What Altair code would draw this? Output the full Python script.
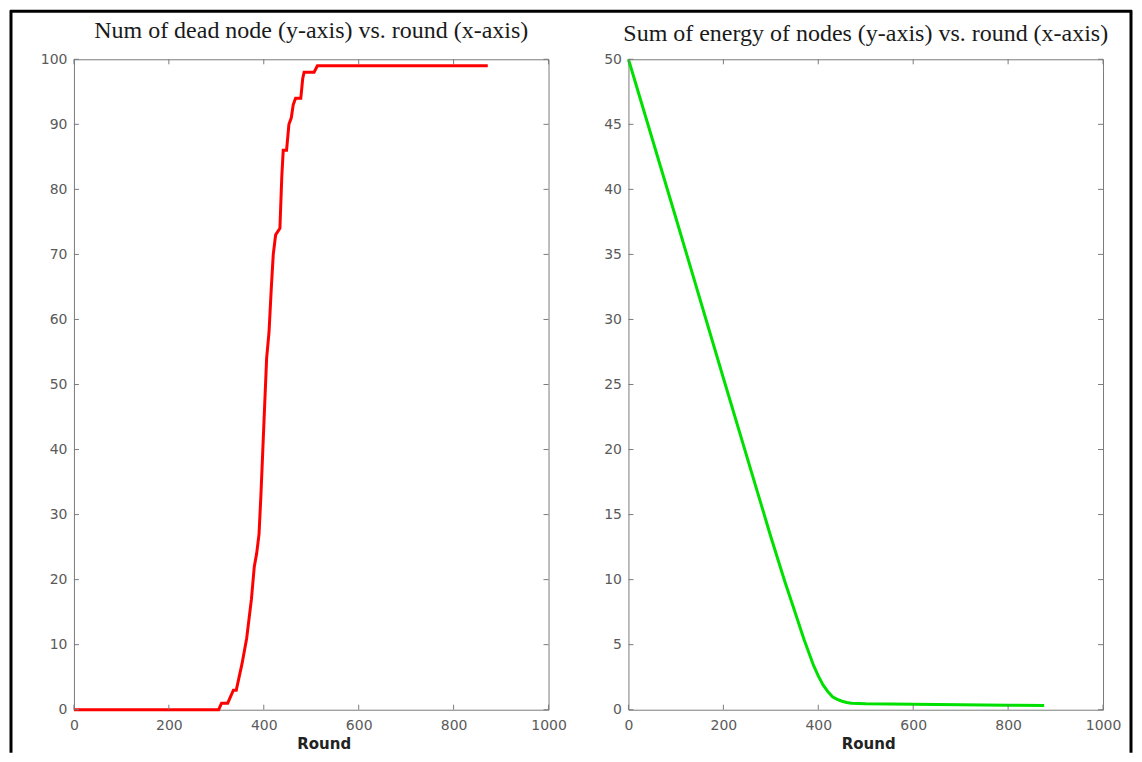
import altair as alt
import pandas as pd

# ---------------- data ----------------
dead_round = [0, 305, 311, 318, 324, 330, 336, 342, 348, 354, 359, 364, 369, 374, 380, 385,
              390, 394, 398, 402, 406, 411, 416, 420, 425, 434, 438, 441, 448, 453, 458, 462,
              467, 478, 482, 485, 506, 513, 872]
dead_nodes = [0, 0, 1, 1, 1, 2, 3, 3, 5, 7, 9, 11, 14, 17, 22, 24,
              27, 33, 40, 47, 54, 58, 65, 70, 73, 74, 82, 86, 86, 90, 91, 93,
              94, 94, 97, 98, 98, 99, 99]

energy_round = [0, 100, 200, 300, 330, 350, 370, 390, 400, 410, 420, 430, 440, 450,
                460, 470, 500, 600, 700, 800, 876]
energy_sum = [50, 37.8, 25.5, 13.3, 9.8, 7.6, 5.4, 3.4, 2.6, 1.9, 1.4, 1.0, 0.8, 0.65,
              0.55, 0.5, 0.45, 0.42, 0.38, 0.35, 0.32]

x_ticks = [0, 200, 400, 600, 800, 1000]
dead_ticks = [0, 10, 20, 30, 40, 50, 60, 70, 80, 90, 100]
energy_ticks = [0, 5, 10, 15, 20, 25, 30, 35, 40, 45, 50]

left_title = "Num of dead node (y-axis) vs. round (x-axis)"
right_title = "Sum of energy of nodes (y-axis) vs. round (x-axis)"
x_title = "Round"

# ---------------- styling ----------------
W, H = 475, 651
LABEL_FONT = "DejaVu Sans"
TITLE_FONT = "Liberation Serif"
BOX = "#7a7a7a"
TICK_LEN = 5
LABEL_COLOR = "#5a5a5a"


def panel(rounds, values, ydomain, yticks, color, title, title_y, x_title_x, with_frame):
    df = pd.DataFrame({"round": rounds, "value": values})
    xscale = alt.Scale(domain=[0, 1000], nice=False, zero=False)
    yscale = alt.Scale(domain=ydomain, nice=False, zero=False)

    line = alt.Chart(df).mark_line(color=color, strokeWidth=3, interpolate="linear").encode(
        x=alt.X("round:Q", scale=xscale,
                axis=alt.Axis(values=x_ticks, format="d", title=x_title, grid=False,
                              domain=False, ticks=False, tickSize=0, labelPadding=9,
                              labelFont=LABEL_FONT, labelFontSize=14, labelColor=LABEL_COLOR,
                              titleFont=LABEL_FONT, titleFontSize=15, titleFontWeight="bold",
                              titleColor="#222222", titlePadding=4, titleX=x_title_x,
                              labelFlush=False)),
        y=alt.Y("value:Q", scale=yscale,
                axis=alt.Axis(values=yticks, format="d", title=None, grid=False, domain=False,
                              ticks=False, tickSize=0, labelPadding=7,
                              labelFont=LABEL_FONT, labelFontSize=14, labelColor=LABEL_COLOR,
                              labelFlush=False)),
    )

    xt = pd.DataFrame({"t": x_ticks})
    yt = pd.DataFrame({"t": yticks})
    tx = alt.X("t:Q", scale=xscale)
    ty = alt.Y("t:Q", scale=yscale)
    tick_bottom = alt.Chart(xt).mark_rule(color=BOX, strokeWidth=1).encode(
        x=tx, y=alt.value(H), y2=alt.value(H - TICK_LEN))
    tick_top = alt.Chart(xt).mark_rule(color=BOX, strokeWidth=1).encode(
        x=tx, y=alt.value(0), y2=alt.value(TICK_LEN))
    tick_left = alt.Chart(yt).mark_rule(color=BOX, strokeWidth=1).encode(
        y=ty, x=alt.value(0), x2=alt.value(TICK_LEN))
    tick_right = alt.Chart(yt).mark_rule(color=BOX, strokeWidth=1).encode(
        y=ty, x=alt.value(W), x2=alt.value(W - TICK_LEN))

    one = pd.DataFrame({"d": [0]})
    ttl = alt.Chart(one).mark_text(text=title, font=TITLE_FONT, fontSize=24,
                                   color="#1a1a1a", baseline="middle", align="center").encode(
        x=alt.value(W / 2), y=alt.value(title_y))

    layers = [line, tick_bottom, tick_top, tick_left, tick_right, ttl]

    if with_frame:
        fl = -63
        ft = -48
        fr = 1058
        fb = 694
        frame_style = dict(color="black", strokeWidth=3)
        layers += [
            alt.Chart(one).mark_rule(**frame_style).encode(
                x=alt.value(fl), y=alt.value(ft - 1), y2=alt.value(fb)),
            alt.Chart(one).mark_rule(**frame_style).encode(
                x=alt.value(fl - 1), x2=alt.value(fr + 1), y=alt.value(ft)),
            alt.Chart(one).mark_rule(**frame_style).encode(
                x=alt.value(fr), y=alt.value(ft - 1), y2=alt.value(fb)),
        ]

    return alt.layer(*layers).properties(width=W, height=H)


left = panel(dead_round, dead_nodes, [0, 100], dead_ticks, "#ff0000",
             left_title, -28, 250, True)
right = panel(energy_round, energy_sum, [0, 50], energy_ticks, "#00e000",
              right_title, -25, 240, False)

chart = alt.hconcat(left, right, spacing=80).properties(
    bounds="flush", padding=0, background="white"
).configure_view(
    stroke=BOX, strokeWidth=1
)

chart.save("out.html", embed_options={"renderer": "svg", "actions": False})
